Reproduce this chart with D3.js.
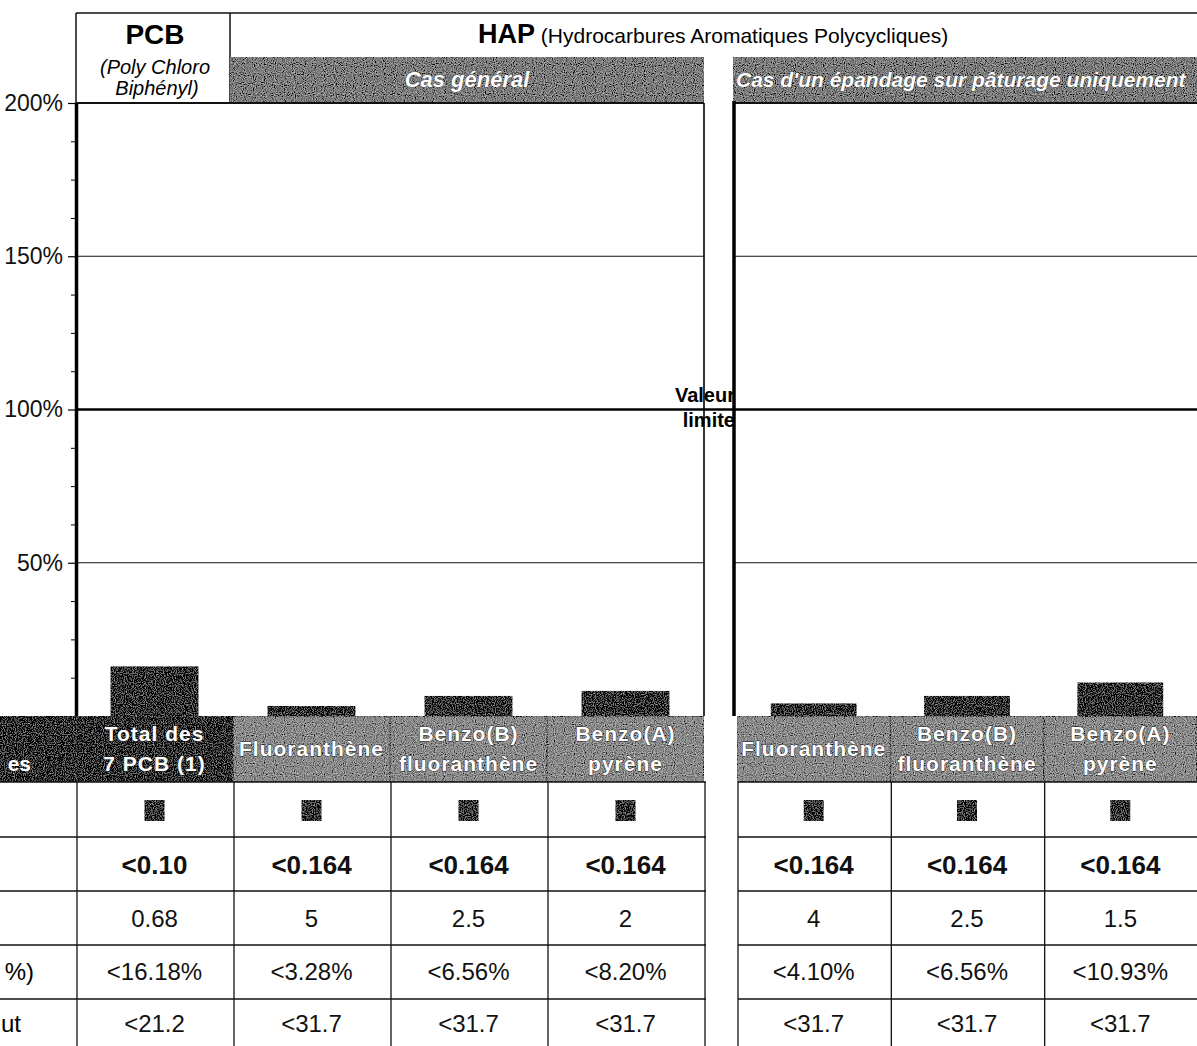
<!DOCTYPE html>
<html>
<head>
<meta charset="utf-8">
<script src="https://cdn.jsdelivr.net/npm/d3@7"></script>
<style>
  body { margin: 0; background: #fff; }
  svg { display: block; font-family: "Liberation Sans", Arial, sans-serif; }
</style>
</head>
<body>
<svg id="chart" width="1197" height="1046"></svg>
<script>
// columns of the table / bars (first 4 = PCB + cas général, last 3 = pâturage)
const categories = ["Total des 7 PCB (1)", "Fluoranthène", "Benzo(B) fluoranthène", "Benzo(A) pyrène",
                    "Fluoranthène", "Benzo(B) fluoranthène", "Benzo(A) pyrène"];
const headerLines = [["Total des", "7 PCB (1)"], ["Fluoranthène"], ["Benzo(B)", "fluoranthène"], ["Benzo(A)", "pyrène"],
                     ["Fluoranthène"], ["Benzo(B)", "fluoranthène"], ["Benzo(A)", "pyrène"]];
const teneur = ["<0.10", "<0.164", "<0.164", "<0.164", "<0.164", "<0.164", "<0.164"];
const valeurLimite = ["0.68", "5", "2.5", "2", "4", "2.5", "1.5"];
const ratioPct = [16.18, 3.28, 6.56, 8.20, 4.10, 6.56, 10.93];
const flux = ["<21.2", "<31.7", "<31.7", "<31.7", "<31.7", "<31.7", "<31.7"];
const yTicks = [50, 100, 150, 200];
// only the ends of the row titles are visible at the left edge of the page
const rowLabelEnds = ["es", "", "", "", "%)", "ut"];

var svg = d3.select("#chart");

// grainy "scanned" fill
var defs = svg.append("defs");
var f = defs.append("filter").attr("id", "grain")
    .attr("x", 0).attr("y", 0).attr("width", 1).attr("height", 1);
f.append("feTurbulence").attr("type", "fractalNoise").attr("baseFrequency", 0.9)
    .attr("numOctaves", 1).attr("seed", 4).attr("result", "t");
f.append("feColorMatrix").attr("in", "t").attr("type", "matrix")
    .attr("values", "1 0 0 0 0  1 0 0 0 0  1 0 0 0 0  0 0 0 0 1").attr("result", "g");
f.append("feComposite").attr("in", "SourceGraphic").attr("in2", "g").attr("operator", "arithmetic")
    .attr("k1", 0).attr("k2", 1).attr("k3", 1.0).attr("k4", -0.5).attr("result", "c");
f.append("feComposite").attr("in", "c").attr("in2", "SourceGraphic").attr("operator", "in");

// scales
var y = d3.scaleLinear().domain([0, 200]).range([716, 103]);
var xLeft = d3.scaleBand().domain([0, 1, 2, 3]).range([76, 704]);
var xRight = d3.scaleBand().domain([4, 5, 6]).range([737, 1197]);
function colScale(i) { return i < 4 ? xLeft : xRight; }
function colX0(i) { return colScale(i)(i); }
function colW(i) { return colScale(i).bandwidth(); }
function colMid(i) { return colX0(i) + colW(i) / 2; }

// ---------- header ----------
svg.append("line").attr("x1", 76).attr("x2", 1197).attr("y1", 13).attr("y2", 13)
    .attr("stroke", "#111").attr("stroke-width", 1.5);
svg.append("line").attr("x1", 76).attr("x2", 76).attr("y1", 13).attr("y2", 103)
    .attr("stroke", "#111").attr("stroke-width", 1.5);
svg.append("line").attr("x1", 230).attr("x2", 230).attr("y1", 13).attr("y2", 103)
    .attr("stroke", "#111").attr("stroke-width", 1.5);

svg.append("text").attr("x", 155).attr("y", 44).attr("text-anchor", "middle")
    .attr("font-size", 28).attr("font-weight", "bold").text("PCB");
svg.append("text").attr("x", 155).attr("y", 74).attr("text-anchor", "middle")
    .attr("font-size", 20).attr("font-style", "italic").text("(Poly Chloro");
svg.append("text").attr("x", 157).attr("y", 95).attr("text-anchor", "middle")
    .attr("font-size", 20).attr("font-style", "italic").text("Biphényl)");

var hap = svg.append("text").attr("x", 478).attr("y", 43).attr("font-size", 21);
hap.append("tspan").attr("font-size", 27).attr("font-weight", "bold").text("HAP");
hap.append("tspan").text(" (Hydrocarbures Aromatiques Polycycliques)");

svg.append("rect").attr("x", 230).attr("y", 57).attr("width", 474).attr("height", 46)
    .attr("fill", "#7c7c7c").attr("filter", "url(#grain)");
svg.append("rect").attr("x", 733).attr("y", 57).attr("width", 464).attr("height", 46)
    .attr("fill", "#7c7c7c").attr("filter", "url(#grain)");
svg.append("text").attr("x", 467).attr("y", 87).attr("text-anchor", "middle")
    .attr("font-size", 22).attr("font-weight", "bold").attr("font-style", "italic")
    .attr("fill", "#fff").attr("stroke", "#333").attr("stroke-width", 0.6).attr("paint-order", "stroke")
    .text("Cas général");
svg.append("text").attr("x", 736).attr("y", 87)
    .attr("font-size", 21).attr("font-weight", "bold").attr("font-style", "italic")
    .attr("fill", "#fff").attr("stroke", "#333").attr("stroke-width", 0.6).attr("paint-order", "stroke")
    .text("Cas d'un épandage sur pâturage uniquement");

// ---------- chart panels ----------
var grid = svg.append("g");
[150, 50].forEach(function(v) {
    grid.append("line").attr("x1", 76).attr("x2", 704).attr("y1", y(v)).attr("y2", y(v))
        .attr("stroke", "#111").attr("stroke-width", 1.2);
    grid.append("line").attr("x1", 734).attr("x2", 1197).attr("y1", y(v)).attr("y2", y(v))
        .attr("stroke", "#111").attr("stroke-width", 1.2);
});
grid.append("line").attr("x1", 76).attr("x2", 1197).attr("y1", y(100)).attr("y2", y(100))
    .attr("stroke", "#000").attr("stroke-width", 2.5);
// top of panels
grid.append("line").attr("x1", 76).attr("x2", 704).attr("y1", y(200)).attr("y2", y(200))
    .attr("stroke", "#111").attr("stroke-width", 2);
grid.append("line").attr("x1", 733).attr("x2", 1197).attr("y1", y(200)).attr("y2", y(200))
    .attr("stroke", "#111").attr("stroke-width", 2);
// right edge of left panel, left axis of right panel
grid.append("line").attr("x1", 704).attr("x2", 704).attr("y1", y(200)).attr("y2", y(0))
    .attr("stroke", "#000").attr("stroke-width", 1.6);
grid.append("line").attr("x1", 734).attr("x2", 734).attr("y1", y(200) - 2).attr("y2", y(0))
    .attr("stroke", "#000").attr("stroke-width", 3.5);

svg.append("text").attr("x", 735).attr("y", y(100) - 8).attr("text-anchor", "end")
    .attr("font-size", 20).attr("font-weight", "bold").text("Valeur");
svg.append("text").attr("x", 735).attr("y", y(100) + 17).attr("text-anchor", "end")
    .attr("font-size", 20).attr("font-weight", "bold").text("limite");

// y axis
var minor = d3.range(12.5, 200, 12.5).filter(function(d) { return d % 50 !== 0; });
svg.append("g").attr("transform", "translate(76,0)")
    .call(d3.axisLeft(y).tickValues(minor).tickSize(5).tickSizeOuter(0).tickFormat(""))
    .call(function(g) { g.select(".domain").remove(); });
var yAxis = svg.append("g").attr("transform", "translate(76,0)")
    .call(d3.axisLeft(y).tickValues(yTicks).tickSize(8).tickSizeOuter(0).tickPadding(5)
        .tickFormat(function(d) { return d + "%"; }));
yAxis.select(".domain").attr("stroke-width", 3.5);
yAxis.selectAll(".tick line").attr("stroke-width", 1.2);
yAxis.selectAll("text").attr("font-size", 23).attr("fill", "#111")
    .attr("font-family", "'Liberation Sans', Arial, sans-serif");

// bars
svg.append("g").selectAll("rect")
    .data(ratioPct)
    .enter().append("rect")
    .attr("x", function(d, i) { return colMid(i) - colW(i) * 0.28; })
    .attr("width", function(d, i) { return colW(i) * 0.56; })
    .attr("y", function(d) { return y(d); })
    .attr("height", function(d) { return y(0) - y(d); })
    .attr("fill", "#2e2e2e")
    .attr("filter", "url(#grain)");

// ---------- table ----------
var rowEdges = [716, 782, 837, 891, 945, 999, 1060];
var tbl = svg.append("g");

// header cells
tbl.append("rect").attr("x", 0).attr("y", rowEdges[0]).attr("width", 76).attr("height", rowEdges[1] - rowEdges[0])
    .attr("fill", "#2a2a2a").attr("filter", "url(#grain)");
tbl.selectAll(".hcell").data(categories).enter().append("rect")
    .attr("class", "hcell")
    .attr("x", function(d, i) { return colX0(i); })
    .attr("y", rowEdges[0])
    .attr("width", function(d, i) { return colW(i); })
    .attr("height", rowEdges[1] - rowEdges[0])
    .attr("fill", function(d, i) { return i === 0 ? "#2a2a2a" : "#8a8a8a"; })
    .attr("stroke", "#555").attr("stroke-width", 1)
    .attr("filter", "url(#grain)");

var htext = tbl.selectAll(".htext").data(headerLines).enter().append("text")
    .attr("class", "htext")
    .attr("text-anchor", "middle")
    .attr("font-size", 21).attr("font-weight", "bold").attr("letter-spacing", 1)
    .attr("fill", "#fff").attr("stroke", "#222").attr("stroke-width", 0.8).attr("paint-order", "stroke");
htext.selectAll("tspan").data(function(d, i) {
        return d.map(function(s, k) { return {s: s, k: k, n: d.length, i: i}; });
    })
    .enter().append("tspan")
    .attr("x", function(d) { return colMid(d.i); })
    .attr("y", function(d) { return d.n === 1 ? 756 : 741 + d.k * 30; })
    .text(function(d) { return d.s; });

// grid lines of the body
function hLines(x1, x2) {
    rowEdges.slice(1, 6).forEach(function(ry) {
        tbl.append("line").attr("x1", x1).attr("x2", x2).attr("y1", ry).attr("y2", ry)
            .attr("stroke", "#111").attr("stroke-width", 1.3);
    });
}
hLines(0, 706);
hLines(738, 1197);
var vxs = [76].concat(categories.map(function(d, i) { return colX0(i) + colW(i); }));
vxs.push(737);
vxs.forEach(function(vx) {
    tbl.append("line").attr("x1", vx + 1).attr("x2", vx + 1).attr("y1", rowEdges[1]).attr("y2", 1046)
        .attr("stroke", "#111").attr("stroke-width", 1.3);
});

// legend squares
tbl.selectAll(".sq").data(categories).enter().append("rect")
    .attr("x", function(d, i) { return colMid(i) - 10; })
    .attr("y", 800).attr("width", 20).attr("height", 21)
    .attr("fill", "#333").attr("filter", "url(#grain)");

function rowText(values, cy, bold) {
    tbl.append("g").selectAll("text").data(values).enter().append("text")
        .attr("x", function(d, i) { return colMid(i); })
        .attr("y", cy)
        .attr("text-anchor", "middle")
        .attr("font-size", bold ? 26 : 24)
        .attr("font-weight", bold ? "bold" : "normal")
        .attr("fill", "#111")
        .text(function(d) { return d; });
}
rowText(teneur, 874, true);
rowText(valeurLimite, 927, false);
rowText(ratioPct.map(function(d) { return "<" + d.toFixed(2) + "%"; }), 980, false);
rowText(flux, 1032, false);

// visible tails of the row titles (left column is cut by the page edge)
tbl.append("text").attr("x", 31).attr("y", 771).attr("text-anchor", "end")
    .attr("font-size", 21).attr("font-weight", "bold").attr("fill", "#fff").text(rowLabelEnds[0]);
tbl.append("text").attr("x", 34).attr("y", 980).attr("text-anchor", "end")
    .attr("font-size", 24).text(rowLabelEnds[4]);
tbl.append("text").attr("x", 21).attr("y", 1032).attr("text-anchor", "end")
    .attr("font-size", 24).text(rowLabelEnds[5]);
</script>
</body>
</html>
